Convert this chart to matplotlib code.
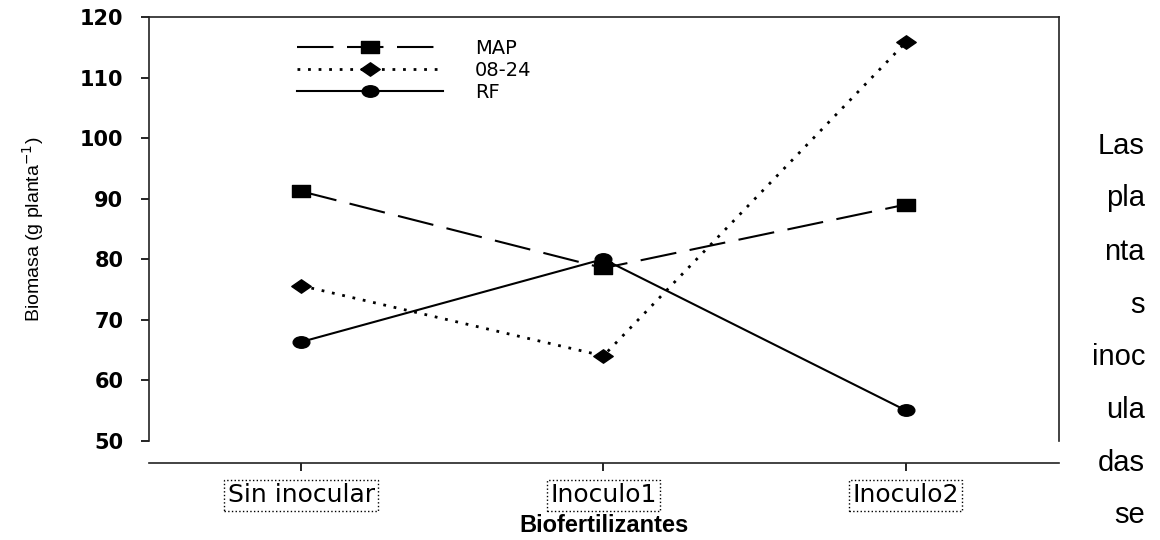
import matplotlib
matplotlib.use('Agg')
import matplotlib.pyplot as plt
from matplotlib.path import Path
from matplotlib.transforms import Affine2D

## data
categorias = ['Sin inocular', 'Inoculo1', 'Inoculo2']
map_vals = [91.2, 78.5, 89.0]
f0824_vals = [75.6, 64.0, 115.8]
rf_vals = [66.3, 80.0, 55.0]
yticks = [50, 60, 70, 80, 90, 100, 110, 120]
texto_derecha = ['Las', 'pla', 'nta', 's', 'inoc', 'ula', 'das', 'se']

plt.rcParams['font.family'] = ['Liberation Sans', 'DejaVu Sans']

# the original figure looks stretched sideways, so the markers are wider than tall
sx = 1.45
m_sq = Path([(-sx, -1), (sx, -1), (sx, 1), (-sx, 1), (-sx, -1)],
            [Path.MOVETO, Path.LINETO, Path.LINETO, Path.LINETO, Path.CLOSEPOLY])
m_dia = Path([(-sx, 0), (0, 1), (sx, 0), (0, -1), (-sx, 0)],
             [Path.MOVETO, Path.LINETO, Path.LINETO, Path.LINETO, Path.CLOSEPOLY])
m_circ = Affine2D().scale(sx, 1).transform_path(Path.unit_circle())

fig = plt.figure(figsize=(11.6, 5.4), dpi=100)
ax = fig.add_axes([149/1160, 1 - 463/540, 910/1160, 446/540])

x = list(range(len(categorias)))
ax.plot(x, map_vals, color='black', lw=1.5, dashes=(17.5, 6.5), marker=m_sq, ms=12.5, label='MAP')
ax.plot(x, f0824_vals, color='black', lw=2, linestyle=(0, (1, 2.8)), marker=m_dia, ms=14, label='08-24')
ax.plot(x, rf_vals, color='black', lw=1.5, linestyle='-', marker=m_circ, ms=12, label='RF')

ax.set_xlim(-0.503, 2.507)
ax.set_ylim(46.3, 120)
ax.set_yticks(yticks)
ax.set_xticks(x)
ax.set_xticklabels(categorias)

ax.spines['left'].set_bounds(50, 120)
ax.spines['right'].set_bounds(50, 120)
for s in ax.spines.values():
    s.set_linewidth(1.2)
    s.set_color('#222222')

ax.tick_params(axis='y', direction='out', length=6, width=1.2, pad=12.5)
ax.tick_params(axis='x', direction='out', length=5.5, width=1.2, pad=9)
for lbl in ax.get_yticklabels():
    lbl.set_fontweight('bold')
    lbl.set_fontfamily('DejaVu Sans')
    lbl.set_fontsize(15)
for lbl in ax.get_xticklabels():
    lbl.set_fontfamily('DejaVu Sans')
    lbl.set_fontsize(18)
    lbl.set_bbox(dict(boxstyle='square,pad=0.14', fc='none', ec='black', ls=':', lw=1))

ax.set_xlabel('Biofertilizantes', fontsize=17, fontweight='bold', labelpad=5)
ax.set_ylabel('Biomasa (g planta$^{-1}$)', fontsize=14, va='center')
ax.yaxis.set_label_coords(-0.127, 0.525)

leg = ax.legend(loc='upper left', bbox_to_anchor=(0.163, 0.95), frameon=False,
                numpoints=1, handlelength=7.5, handletextpad=1.65,
                labelspacing=0.15, borderpad=0, borderaxespad=0,
                prop={'family': 'DejaVu Sans', 'size': 14})

ys = [146, 198, 252, 305, 357, 410, 463, 515]
for t, yy in zip(texto_derecha, ys):
    fig.text(1145/1160, 1 - yy/540, t, ha='right', va='center', fontsize=21)

fig.savefig('out.png', dpi=100)
